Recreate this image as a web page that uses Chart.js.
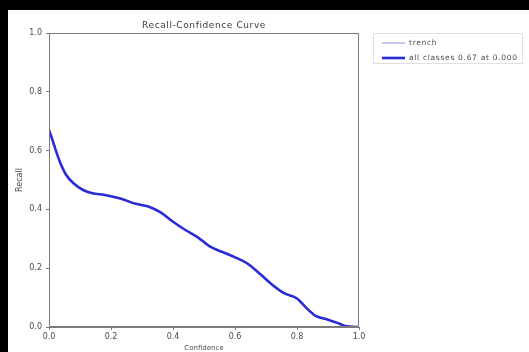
<!DOCTYPE html>
<html>
<head>
<meta charset="utf-8">
<script src="https://cdn.jsdelivr.net/npm/chart.js@4.4.1/dist/chart.umd.min.js"></script>
<style>
  html, body { margin: 0; padding: 0; background: #000; }
  #sheet { position: absolute; left: 8px; top: 10px; width: 521px; height: 342px; background: #fff; }
  #wrap { position: absolute; left: 0; top: 0; width: 529px; height: 352px; }
</style>
</head>
<body>
<div id="sheet"></div>
<div id="wrap"><canvas id="c" width="529" height="352"></canvas></div>
<script>
// Recall vs. confidence threshold
const confidence = [0.0, 0.01, 0.02, 0.035, 0.055, 0.08, 0.11, 0.14, 0.18, 0.23, 0.28, 0.32, 0.36, 0.40, 0.44, 0.48, 0.52, 0.56, 0.60, 0.64, 0.68, 0.72, 0.76, 0.80, 0.83, 0.86, 0.90, 0.93, 0.96, 1.0];
const recallTrench = [0.67, 0.64, 0.607, 0.562, 0.518, 0.488, 0.466, 0.455, 0.449, 0.437, 0.419, 0.41, 0.39, 0.358, 0.33, 0.305, 0.273, 0.255, 0.237, 0.216, 0.181, 0.144, 0.114, 0.097, 0.065, 0.038, 0.025, 0.014, 0.002, 0.0];
const recallAll = recallTrench.slice();
const axisTicks = [0.0, 0.2, 0.4, 0.6, 0.8, 1.0];
const className = 'trench';

const FONT = 'DejaVu Sans';
const TXT = '#4a4a4a';
const SPINE = '#7a7a7a';

const pts = ys => confidence.map((x, i) => ({ x, y: ys[i] }));

const datasets = [
  { label: className, data: pts(recallTrench), borderColor: '#8a98f0', borderWidth: 1, order: 2 },
  { label: `all classes ${recallAll[0].toFixed(2)} at ${confidence[0].toFixed(3)}`,
    data: pts(recallAll), borderColor: '#2a2ad8', borderWidth: 2.6, order: 1 }
];

// Title, frame and legend box drawn around the plot area
const decor = {
  id: 'decor',
  afterDraw(chart) {
    const { ctx, chartArea: a } = chart;
    ctx.save();
    ctx.strokeStyle = SPINE;
    ctx.lineWidth = 1;
    ctx.strokeRect(a.left + 0.5, a.top + 0.5, a.right - a.left - 1, a.bottom - a.top - 1);

    ctx.fillStyle = '#3a3a3a';
    ctx.font = `9px "${FONT}"`;
    ctx.letterSpacing = '0.6px';
    ctx.textAlign = 'center';
    ctx.textBaseline = 'middle';
    ctx.fillText('Recall-Confidence Curve', (a.left + a.right) / 2, 25.5);

    // legend
    const bx = a.right + 14, by = a.top, bw = 150, bh = 31;
    ctx.fillStyle = '#fff';
    ctx.strokeStyle = '#e0e0e0';
    ctx.fillRect(bx, by, bw, bh);
    ctx.strokeRect(bx + 0.5, by + 0.5, bw - 1, bh - 1);
    ctx.font = `7.5px "${FONT}"`;
    ctx.letterSpacing = '0.7px';
    ctx.textAlign = 'left';
    chart.data.datasets.forEach((ds, i) => {
      const y = by + 10 + i * 15;
      ctx.strokeStyle = ds.borderColor;
      ctx.lineWidth = ds.borderWidth;
      ctx.beginPath();
      ctx.moveTo(bx + 9, y);
      ctx.lineTo(bx + 32, y);
      ctx.stroke();
      ctx.fillStyle = TXT;
      ctx.fillText(ds.label, bx + 36, y);
    });
    ctx.restore();
  }
};

const scaleCommon = {
  type: 'linear',
  min: 0, max: 1,
  afterBuildTicks: s => { s.ticks = axisTicks.map(v => ({ value: v })); },
  grid: { display: true, drawOnChartArea: false, drawTicks: true, tickLength: 3, color: SPINE, lineWidth: 1 },
  border: { display: true, color: SPINE, width: 1 },
  ticks: { color: TXT, font: { family: FONT, size: 8 }, callback: v => Number(v).toFixed(1), maxRotation: 0, autoSkip: false }
};

new Chart(document.getElementById('c'), {
  type: 'line',
  data: { datasets },
  plugins: [decor],
  options: {
    responsive: false,
    animation: false,
    layout: { padding: { left: 15, right: 170, top: 33, bottom: 0 } },
    elements: { point: { radius: 0 }, line: { cubicInterpolationMode: 'monotone', fill: false } },
    plugins: { legend: { display: false }, title: { display: false }, tooltip: { enabled: false } },
    scales: {
      x: Object.assign({}, scaleCommon, {
        position: 'bottom',
        ticks: Object.assign({}, scaleCommon.ticks, { padding: 2 }),
        title: { display: true, text: 'Confidence', color: TXT, font: { family: FONT, size: 7 }, padding: 0 },
        afterFit: s => { s.height = 25; }
      }),
      y: Object.assign({}, scaleCommon, {
        position: 'left',
        ticks: Object.assign({}, scaleCommon.ticks, { padding: 4 }),
        title: { display: true, text: 'Recall', color: TXT, font: { family: FONT, size: 8 }, padding: 0 },
        afterFit: s => { s.width = 34; }
      })
    }
  }
});
</script>
</body>
</html>
